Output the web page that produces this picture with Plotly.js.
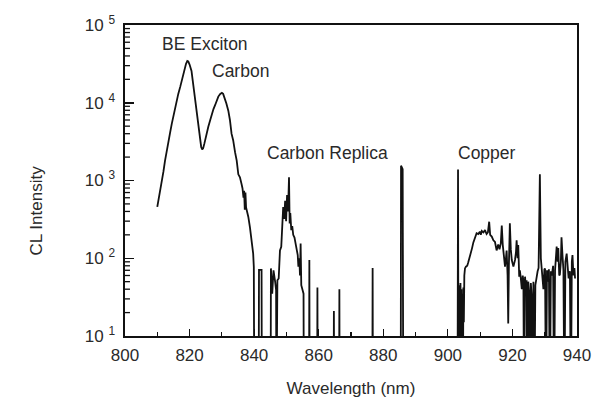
<!DOCTYPE html>
<html>
<head>
<meta charset="utf-8">
<script src="https://cdn.plot.ly/plotly-3.0.1.min.js"></script>
<style>html,body{margin:0;padding:0;background:#fff;}#chart{width:593px;height:402px;}</style>
</head>
<body>
<div id="chart"></div>
<script>
// Wavelength (nm) and CL intensity.
// Values of 1 lie below the axis floor (10) and mark the baseline.
const wavelength = [
  810.0, 810.5, 811.0, 811.4, 811.9, 812.4, 812.9, 813.4, 814.0, 814.5,
  815.0, 815.5, 816.0, 816.5, 817.1, 817.6, 818.1, 818.6, 818.9, 819.3,
  819.6, 820.0, 820.3, 820.6, 821.0, 821.4, 821.7, 822.2, 822.7, 823.2,
  823.6, 823.9, 824.2, 824.6, 825.0, 825.3, 825.8, 826.4, 826.9, 827.4,
  827.9, 828.4, 828.9, 829.5, 830.0, 830.4, 830.9, 831.4, 832.0, 832.5,
  833.0, 833.5, 834.1, 834.6, 835.1, 835.6, 836.1, 836.4, 836.7, 836.9,
  837.1, 837.3, 837.5, 837.7, 838.2, 838.7, 839.2, 839.7, 839.9, 840.05,
  841.4, 841.5, 842.3, 842.4, 845.1, 845.2, 845.6, 846.0, 846.5, 846.8,
  846.9, 847.2, 847.6, 848.0, 848.4, 848.8, 849.0, 849.3, 849.6, 849.9,
  850.2, 850.5, 850.8, 851.0, 851.2, 851.5, 851.8, 852.1, 852.5, 852.9,
  853.2, 853.5, 853.7, 854.0, 854.2, 854.4, 854.6, 855.0, 855.3, 855.4,
  857.0, 857.1, 857.2, 859.5, 859.6, 859.7, 864.6, 864.7, 864.8, 866.3,
  866.4, 866.5, 876.6, 876.7, 876.8, 885.4, 885.5, 886.0, 886.2, 903.0,
  903.15, 903.3, 903.45, 903.6, 903.75, 903.9, 904.05, 904.2, 904.35, 904.5,
  904.65, 904.8, 904.95, 905.1, 905.3, 905.6, 906.0, 906.3, 906.7, 907.1,
  907.5, 907.9, 908.4, 908.9, 909.4, 909.9, 910.2, 910.5, 911.0, 911.5,
  912.0, 912.4, 912.8, 913.1, 913.6, 914.1, 914.6, 914.9, 915.1, 915.6,
  916.0, 916.4, 916.7, 917.0, 917.2, 917.7, 918.0, 918.2, 918.5, 918.7,
  918.9, 919.2, 919.5, 919.8, 920.3, 920.8, 921.1, 921.3, 921.6, 921.8,
  922.1, 922.3, 922.6, 922.9, 923.2, 923.4, 923.6, 923.9, 924.1, 924.4,
  924.6, 924.9, 925.2, 925.4, 925.7, 926.0, 926.2, 926.5, 926.8, 927.1,
  927.5, 927.8, 928.1, 928.5, 928.8, 929.0, 929.3, 929.6, 929.9, 930.1,
  930.4, 930.7, 931.0, 931.3, 931.6, 931.9, 932.2, 932.6, 932.9, 933.2,
  933.7, 934.0, 934.2, 934.5, 934.7, 935.0, 935.2, 935.5, 935.8, 936.1,
  936.4, 936.8, 937.1, 937.4, 937.8, 938.1, 938.4, 938.6, 938.9, 939.2,
  939.4
];
const intensity = [
  457, 600, 760, 910, 1300, 1800, 2450, 3100, 4200, 5400,
  6800, 8500, 10700, 13000, 16000, 19500, 24000, 29000, 31700, 34500,
  34000, 31000, 28000, 25700, 19000, 14000, 10700, 7000, 4900, 3500,
  2700, 2500, 2600, 3000, 3600, 4000, 4900, 6000, 7200, 8300,
  9300, 10700, 12000, 13000, 13400, 13000, 11500, 9800, 7900, 6000,
  4000, 3300, 2300, 1800, 1200, 1100, 900, 790, 600, 740,
  420, 700, 450, 420, 340, 250, 170, 115, 77, 1,
  1, 71, 71, 1, 1, 74, 35, 70, 50, 39,
  1, 52, 55, 126, 140, 300, 457, 320, 550, 300,
  650, 400, 1100, 280, 380, 230, 260, 200, 185, 150,
  130, 110, 78, 100, 60, 155, 45, 39, 35, 1,
  1, 95, 1, 1, 42, 1, 1, 21, 1, 1,
  40, 1, 1, 75, 1, 1, 1550, 1400, 1, 1,
  1380, 1, 45, 30, 1, 48, 20, 40, 1, 35,
  1, 42, 15, 60, 74, 78, 80, 88, 100, 115,
  135, 160, 185, 210, 205, 220, 200, 225, 215, 230,
  205, 215, 295, 200, 190, 170, 162, 140, 126, 150,
  130, 155, 263, 150, 115, 78, 100, 126, 60, 14.5,
  80, 282, 130, 95, 78, 95, 120, 170, 100, 148,
  58, 70, 55, 40, 60, 50, 1, 58, 45, 52,
  1, 50, 35, 1, 48, 30, 1, 50, 1, 45,
  60, 68, 75, 1200, 100, 75, 68, 40, 72, 74,
  1, 70, 50, 72, 1, 68, 60, 80, 1, 70,
  141, 90, 135, 60, 62, 90, 186, 110, 70, 1,
  90, 115, 80, 55, 68, 1, 90, 110, 60, 75,
  55
];
const yTickVals = [10, 100, 1000, 10000, 100000];
const yTickText = ['10 <sup>1</sup>', '10 <sup>2</sup>', '10 <sup>3</sup>', '10 <sup>4</sup>', '10 <sup>5</sup>'];
const peakLabels = ['BE Exciton', 'Carbon', 'Carbon Replica', 'Copper'];
const labelX = [824.8, 835.9, 862.6, 912.1];
const labelY = [4.75, 4.41, 3.35, 3.36];

const FONT = 'Liberation Sans, Arial, Helvetica, sans-serif';
const TXT = '#2a2a2a';

// minor ticks (2..9 per decade) on the log y axis, drawn as short lines
const shapes = [];
for (let d = 10; d < 100000; d *= 10) {
  for (let k = 2; k <= 9; k++) {
    shapes.push({
      type: 'line', xref: 'x domain', yref: 'y',
      x0: 0, x1: 0.011, y0: k * d, y1: k * d,
      line: {color: '#111', width: 1.3}
    });
  }
}

const annotations = peakLabels.map((t, i) => ({
  text: t, x: labelX[i], y: labelY[i], xref: 'x', yref: 'y',
  showarrow: false, font: {family: FONT, size: 17.5, color: TXT}
}));
annotations.push({
  text: 'CL Intensity', xref: 'paper', yref: 'paper', x: -0.196, y: 0.405,
  textangle: -90, showarrow: false, xanchor: 'center', yanchor: 'middle',
  font: {family: FONT, size: 17, color: TXT}
});

const data = [{
  x: wavelength, y: intensity, type: 'scatter', mode: 'lines',
  line: {color: '#111', width: 1.8}, hoverinfo: 'x+y'
}];

const layout = {
  width: 593, height: 402,
  margin: {l: 125, r: 16, t: 25, b: 66},
  paper_bgcolor: '#ffffff', plot_bgcolor: '#ffffff',
  showlegend: false,
  font: {family: FONT, size: 17, color: TXT},
  xaxis: {
    range: [800, 940], dtick: 20, tick0: 800,
    ticks: 'inside', ticklen: 7, tickwidth: 1.2, tickcolor: '#111',
    minor: {dtick: 10, ticks: 'inside', ticklen: 4, tickwidth: 1.2, tickcolor: '#111'},
    showline: true, linecolor: '#111', linewidth: 1.6, mirror: true,
    showgrid: false, zeroline: false,
    tickfont: {family: FONT, size: 17, color: TXT},
    ticklabelstandoff: 3,
    title: {text: 'Wavelength (nm)', font: {family: FONT, size: 17, color: TXT}, standoff: 18}
  },
  yaxis: {
    type: 'log', range: [1, 5],
    tickmode: 'array', tickvals: yTickVals, ticktext: yTickText,
    ticks: 'inside', ticklen: 9, tickwidth: 1.5, tickcolor: '#111',
    showline: true, linecolor: '#111', linewidth: 1.6, mirror: true,
    showgrid: false, zeroline: false,
    tickfont: {family: FONT, size: 17, color: TXT},
    ticklabelstandoff: 5
  },
  shapes: shapes,
  annotations: annotations
};

Plotly.newPlot('chart', data, layout, {staticPlot: true, displayModeBar: false});
</script>
</body>
</html>
